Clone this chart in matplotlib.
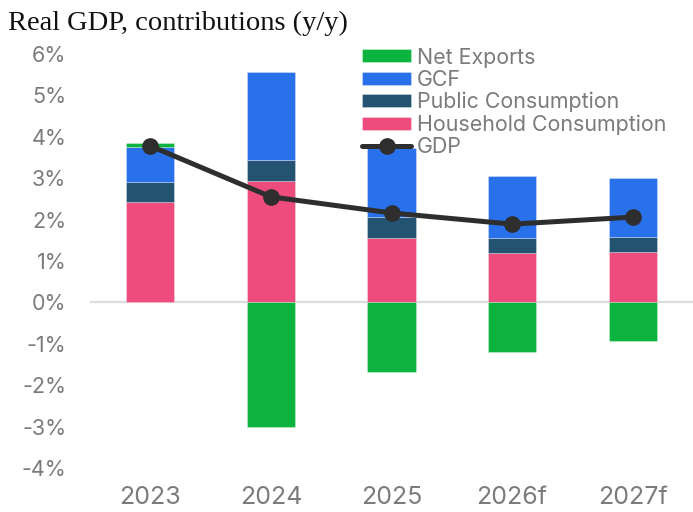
import numpy as np
import matplotlib
matplotlib.use('Agg')
import matplotlib.pyplot as plt
from matplotlib.ticker import FuncFormatter

years = ['2023', '2024', '2025', '2026f', '2027f']
household = [2.42, 2.93, 1.55, 1.19, 1.21]
public = [0.48, 0.50, 0.51, 0.37, 0.36]
gcf = [0.85, 2.14, 1.66, 1.50, 1.43]
net_exports = [0.11, -3.02, -1.67, -1.21, -0.93]
gdp = [3.78, 2.55, 2.16, 1.89, 2.06]

c_nx = '#0db33f'
c_gcf = '#2970eb'
c_pub = '#245372'
c_hh = '#ee4c7d'
c_gdp = '#2e2e2e'
grey = '#7b7b7b'

fig = plt.figure(figsize=(6.93, 5.12), dpi=100)
ax = fig.add_axes([90/693, 1 - 468/512, 1 - 90/693, (468 - 54)/512])

x = np.arange(len(years))
w = 0.40
hh = np.array(household)
pb = np.array(public)
gc = np.array(gcf)
nx = np.array(net_exports)
nx_bottom = np.where(nx > 0, hh + pb + gc, 0)

ec = (1, 1, 1, 0.35)
b_hh = ax.bar(x, hh, w, color=c_hh, edgecolor=ec, linewidth=0.6, zorder=2)
b_pb = ax.bar(x, pb, w, bottom=hh, color=c_pub, edgecolor=ec, linewidth=0.6, zorder=2)
b_gc = ax.bar(x, gc, w, bottom=hh + pb, color=c_gcf, edgecolor=ec, linewidth=0.6, zorder=2)
b_nx = ax.bar(x, nx, w, bottom=nx_bottom, color=c_nx, edgecolor=ec, linewidth=0.6, zorder=2)
l_gdp, = ax.plot(x, gdp, color=c_gdp, lw=3.6, marker='o', ms=11, zorder=4,
                 solid_capstyle='round')

ax.axhline(0, color='#dddddd', lw=1.6, zorder=1)

ax.set_xlim(-0.5, 4.5)
ax.set_ylim(-4, 6)
ax.set_yticks(range(-4, 7))
ax.yaxis.set_major_formatter(FuncFormatter(lambda v, p: f'{int(v)}%'))
ax.set_xticks(x)
ax.set_xticklabels(years)
for s in ax.spines.values():
    s.set_visible(False)
ax.tick_params(axis='both', length=0)
ax.tick_params(axis='y', pad=17, labelsize=15.5, labelcolor=grey)
ax.tick_params(axis='x', pad=13, labelsize=18, labelcolor=grey)
for t in ax.get_xticklabels() + ax.get_yticklabels():
    t.set_family('Inter')

leg = fig.legend([b_nx, b_gc, b_pb, b_hh, l_gdp],
                 ['Net Exports', 'GCF', 'Public Consumption', 'Household Consumption', 'GDP'],
                 loc='upper left', bbox_to_anchor=(362/693, 1 - 47.5/512),
                 frameon=False, borderpad=0, borderaxespad=0,
                 handlelength=2.3, handleheight=0.55, handletextpad=0.25,
                 labelspacing=0.105, prop={'family': 'Inter', 'size': 15.4})
for t in leg.get_texts():
    t.set_color(grey)
leg.set_zorder(10)

fig.text(8/693, 1 - 30/512, 'Real GDP, contributions (y/y)', family='Liberation Serif',
         fontsize=20.5, va='baseline', ha='left', color='#111111')

fig.savefig('out.png', dpi=100)
